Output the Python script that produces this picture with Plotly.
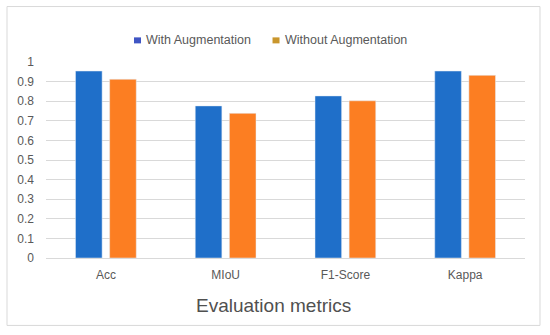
import plotly.graph_objects as go

categories = ["Acc", "MIoU", "F1-Score", "Kappa"]
with_aug = [0.954, 0.776, 0.827, 0.954]
without_aug = [0.912, 0.738, 0.802, 0.932]
series_names = ["With Augmentation", "Without Augmentation"]
bar_colors = ["#1F6FC9", "#FC7E22"]
legend_colors = ["#3F55C4", "#C9962C"]
x_title = "Evaluation metrics"

fig = go.Figure()
for name, vals, col in zip(series_names, [with_aug, without_aug], bar_colors):
    fig.add_trace(go.Bar(x=categories, y=vals, name=name, marker_color=col, showlegend=False))

# legend drawn as small squares + labels (Excel-like compact legend)
legend_x = [(0.1837, 0.1983, 0.2046), (0.4729, 0.4875, 0.4958)]
shapes = [dict(type="rect", xref="paper", yref="paper",
               x0=-0.0814, x1=1.0313, y0=-0.344, y1=1.283,
               line=dict(color="#D9D9D9", width=1), fillcolor="rgba(0,0,0,0)")]
annotations = []
for (sx0, sx1, tx), name, col in zip(legend_x, series_names, legend_colors):
    shapes.append(dict(type="rect", xref="paper", yref="paper", x0=sx0, x1=sx1,
                       y0=1.095, y1=1.1256, line=dict(width=0), fillcolor=col))
    annotations.append(dict(text=name, xref="paper", yref="paper", x=tx, y=1.110,
                            xanchor="left", yanchor="middle", showarrow=False,
                            font=dict(size=12.5, color="#595959")))
annotations.append(dict(text=x_title, xref="paper", yref="paper", x=0.474, y=-0.243,
                        xanchor="center", yanchor="middle", showarrow=False,
                        font=dict(size=19, color="#505050")))

fig.update_layout(
    width=550, height=335,
    margin=dict(l=46, r=25, t=62, b=77, autoexpand=False),
    paper_bgcolor="white", plot_bgcolor="white",
    font=dict(family="Liberation Sans", size=12, color="#595959"),
    barmode="group", bargap=0.43, bargroupgap=0.22,
    showlegend=False,
    xaxis=dict(showgrid=False, showline=False, ticks="", tickfont=dict(size=12), automargin=False,
               ticklabelstandoff=8),
    yaxis=dict(range=[0, 1.0], dtick=0.1, showgrid=True, gridcolor="#D9D9D9", gridwidth=1,
               zeroline=True, zerolinecolor="#D9D9D9", zerolinewidth=1, automargin=False,
               tickfont=dict(size=12), ticks="", ticklabelstandoff=11),
    shapes=shapes,
    annotations=annotations,
)

fig.write_html("out.html", config={"displayModeBar": False},
               post_script="document.body.style.margin='0';document.body.style.padding='0';")
